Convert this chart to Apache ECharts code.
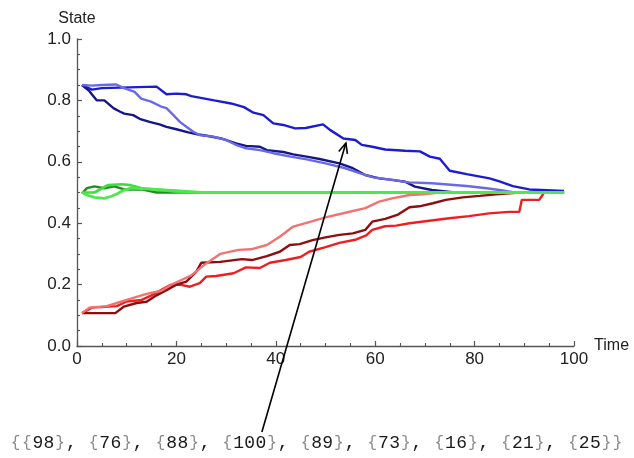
<!DOCTYPE html>
<html>
<head>
<meta charset="utf-8">
<script src="https://cdn.jsdelivr.net/npm/echarts@6/dist/echarts.min.js"></script>
<style>
  html, body { margin: 0; padding: 0; background: #fff; }
  #chart { width: 634px; height: 458px; }
</style>
</head>
<body>
<div id="chart"></div>
<script>
// Random-walk states drifting towards 0.5 (time step, state)

// Blue walks, starting near 0.85
const blueT = [1, 3, 5, 16, 18, 20, 22, 23, 27.6, 31, 33.6, 35.5, 37.5, 39.5, 41.5, 43.9, 46, 49.5, 50.9, 53.6, 56, 57.3, 59.4, 62, 66, 69, 71, 73, 75, 78.4, 83, 85, 87.7, 91, 98];
const blueV = [0.85, 0.835, 0.84, 0.845, 0.82, 0.822, 0.82, 0.814, 0.80, 0.79, 0.778, 0.76, 0.752, 0.725, 0.72, 0.709, 0.71, 0.722, 0.704, 0.676, 0.671, 0.655, 0.649, 0.64, 0.636, 0.634, 0.617, 0.61, 0.571, 0.56, 0.546, 0.536, 0.521, 0.51, 0.505];

const navyT = [1, 2.5, 4, 5.5, 7.4, 8.7, 9.5, 11.3, 12.6, 14.6, 16.6, 18, 20, 22.4, 24.4, 26.4, 29, 32, 34, 36.8, 38.2, 41.5, 43.5, 46.2, 48.8, 52.8, 55.5, 58, 60.8, 63.4, 66, 68, 71.4, 76, 98];
const navyV = [0.85, 0.83, 0.80, 0.80, 0.774, 0.763, 0.757, 0.752, 0.74, 0.73, 0.722, 0.714, 0.706, 0.696, 0.689, 0.684, 0.676, 0.66, 0.652, 0.649, 0.638, 0.632, 0.624, 0.617, 0.609, 0.595, 0.579, 0.557, 0.546, 0.541, 0.535, 0.519, 0.508, 0.50, 0.50];

const lightBlueT = [1, 3, 5, 7.8, 9.6, 11.6, 12.9, 14.9, 16.9, 18, 19.4, 20.7, 22, 23.4, 24.7, 27.4, 30, 32, 34, 36.8, 39.5, 43, 46.2, 50, 54, 57, 59.4, 63.4, 66.8, 71.4, 78.4, 82.4, 85, 88, 98];
const lightBlueV = [0.85, 0.848, 0.85, 0.852, 0.839, 0.828, 0.806, 0.796, 0.78, 0.775, 0.752, 0.73, 0.714, 0.698, 0.687, 0.682, 0.671, 0.655, 0.644, 0.638, 0.628, 0.617, 0.608, 0.595, 0.579, 0.562, 0.55, 0.541, 0.533, 0.53, 0.521, 0.514, 0.508, 0.50, 0.50];

// Red walks, starting near 0.11
const redT = [1, 3, 8, 10, 13, 15, 18.8, 20.7, 22.7, 24.7, 26, 28, 31.5, 34, 36.8, 38.8, 42, 45, 46.7, 50, 52.8, 56.2, 58.2, 59.4, 62, 64.2, 66.9, 70.9, 74.9, 78.9, 82.9, 86.9, 89, 89.5, 93, 94, 98];
const redV = [0.107, 0.125, 0.13, 0.145, 0.15, 0.165, 0.199, 0.20, 0.193, 0.205, 0.226, 0.228, 0.237, 0.256, 0.254, 0.271, 0.28, 0.29, 0.307, 0.322, 0.336, 0.347, 0.36, 0.378, 0.39, 0.392, 0.40, 0.408, 0.416, 0.423, 0.432, 0.437, 0.437, 0.476, 0.476, 0.50, 0.50];

const darkRedT = [1, 7.7, 9.4, 12, 14, 16, 18, 20, 22, 24, 25, 28.8, 33.2, 35.2, 38.2, 40.8, 42.8, 44.8, 47.4, 50, 52.8, 55.5, 58, 59.4, 62, 64.6, 66.9, 68.9, 71.6, 74.2, 77.6, 81, 84.3, 89, 98];
const darkRedV = [0.107, 0.107, 0.128, 0.14, 0.144, 0.165, 0.182, 0.20, 0.21, 0.242, 0.271, 0.274, 0.283, 0.28, 0.293, 0.307, 0.329, 0.332, 0.345, 0.354, 0.362, 0.367, 0.378, 0.405, 0.414, 0.428, 0.452, 0.455, 0.465, 0.476, 0.484, 0.489, 0.494, 0.50, 0.50];

const lightRedT = [1, 2.5, 6, 8, 11, 14, 17, 19, 21, 23, 26, 28.8, 32.5, 35, 38.2, 40.8, 43.5, 46, 50, 54, 58, 60.8, 63.4, 66.9, 69.6, 73, 98];
const lightRedV = [0.107, 0.125, 0.13, 0.14, 0.155, 0.17, 0.18, 0.2, 0.215, 0.23, 0.269, 0.30, 0.313, 0.315, 0.329, 0.356, 0.389, 0.40, 0.419, 0.434, 0.449, 0.47, 0.481, 0.492, 0.494, 0.50, 0.50];

// Green walks, starting at 0.5
const darkGreenT = [1, 2, 3.5, 5.5, 7.5, 9.5, 13, 16, 98];
const darkGreenV = [0.497, 0.514, 0.52, 0.514, 0.52, 0.51, 0.51, 0.50, 0.50];

const greenT = [1, 3.5, 6.2, 9, 10.8, 13, 17, 21, 98];
const greenV = [0.50, 0.50, 0.524, 0.527, 0.524, 0.514, 0.508, 0.50, 0.50];

const lightGreenT = [1, 2, 3.5, 5.5, 6.8, 8, 9.5, 10.8, 14, 20, 25, 98];
const lightGreenV = [0.50, 0.492, 0.484, 0.481, 0.487, 0.495, 0.508, 0.514, 0.512, 0.506, 0.50, 0.50];

// Steps until each walk settled
const settleTimes = [98, 76, 88, 100, 89, 73, 16, 21, 25];

// Axis ticks
const xTicks = [0, 20, 40, 60, 80, 100];
const yTicks = [0.0, 0.2, 0.4, 0.6, 0.8, 1.0];

function pairs(ts, vs) { return ts.map((t, i) => [t, vs[i]]); }

const walks = [
  { t: blueT, v: blueV, color: '#1c1cd0', width: 2.4 },
  { t: navyT, v: navyV, color: '#16168c', width: 2.4 },
  { t: lightBlueT, v: lightBlueV, color: '#6a6ae6', width: 2.4 },
  { t: redT, v: redV, color: '#ec2020', width: 2.4 },
  { t: darkRedT, v: darkRedV, color: '#8e0e0e', width: 2.4 },
  { t: lightRedT, v: lightRedV, color: '#f27272', width: 2.4 },
  { t: darkGreenT, v: darkGreenV, color: '#1f8e1f', width: 2.4 },
  { t: greenT, v: greenV, color: '#3fdc3f', width: 2.6 },
  { t: lightGreenT, v: lightGreenV, color: '#4de84d', width: 2.8 }
];

const chart = echarts.init(document.getElementById('chart'), null, { renderer: 'canvas' });

const axisColor = '#555';
const labelFont = { color: '#222', fontFamily: 'Liberation Sans, Arial, sans-serif', fontSize: 17 };

chart.setOption({
  animation: false,
  backgroundColor: '#fff',
  grid: { left: 77, right: 60, top: 39, bottom: 112, containLabel: false },
  xAxis: {
    type: 'value', min: xTicks[0], max: xTicks[xTicks.length - 1], interval: xTicks[1] - xTicks[0],
    name: 'Time', nameLocation: 'end', nameGap: 13,
    nameTextStyle: Object.assign({}, labelFont, { fontSize: 16 }),
    axisLine: { show: true, lineStyle: { color: axisColor, width: 1.3 } },
    axisTick: { show: true, inside: true, length: 5, lineStyle: { color: axisColor, width: 1.2 } },
    minorTick: { show: true, splitNumber: 4, length: 3, lineStyle: { color: axisColor, width: 1.1 } },
    splitLine: { show: false },
    axisLabel: Object.assign({ margin: 5 }, labelFont)
  },
  yAxis: {
    type: 'value', min: yTicks[0], max: yTicks[yTicks.length - 1], interval: yTicks[1] - yTicks[0],
    name: 'State', nameLocation: 'end', nameGap: 12,
    nameTextStyle: Object.assign({}, labelFont, { fontSize: 16, align: 'center' }),
    axisLine: { show: true, lineStyle: { color: axisColor, width: 1.3 } },
    axisTick: { show: true, inside: true, length: 5, lineStyle: { color: axisColor, width: 1.2 } },
    minorTick: { show: true, splitNumber: 4, length: 3, lineStyle: { color: axisColor, width: 1.1 } },
    splitLine: { show: false },
    axisLabel: Object.assign({ margin: 6, formatter: v => v.toFixed(1) }, labelFont)
  },
  series: walks.map(w => ({
    type: 'line',
    data: pairs(w.t, w.v),
    showSymbol: false,
    symbol: 'none',
    lineStyle: { color: w.color, width: w.width },
    itemStyle: { color: w.color },
    z: 2
  }))
});

// Annotation arrow from the settle-time list up to the slowest blue walk
const tip = chart.convertToPixel({ gridIndex: 0 }, [54.1, 0.661]);
const tail = chart.convertToPixel({ gridIndex: 0 }, [37.2, -0.28]);
const ang = Math.atan2(tail[1] - tip[1], tail[0] - tip[0]);
const headLen = 11, headSpread = 0.42;
const h1 = [tip[0] + headLen * Math.cos(ang + headSpread), tip[1] + headLen * Math.sin(ang + headSpread)];
const h2 = [tip[0] + headLen * Math.cos(ang - headSpread), tip[1] + headLen * Math.sin(ang - headSpread)];

// Settle-time list in Mathematica style, laid out on a fixed monospace pitch
const listText = '{' + settleTimes.map(n => '{' + n + '}').join(', ') + '}';
const pitch = 11.15;
const startX = 10;
const listElems = [];
for (let i = 0; i < listText.length; i++) {
  const ch = listText[i];
  if (ch === ' ') continue;
  const isBrace = ch === '{' || ch === '}';
  listElems.push({
    type: 'text',
    x: startX + i * pitch + pitch / 2,
    y: 443,
    style: {
      text: ch,
      fill: isBrace ? '#8a8a8a' : '#1a1a1a',
      font: (isBrace ? '16px' : '18px') + ' "Liberation Mono", "DejaVu Sans Mono", monospace',
      align: 'center',
      verticalAlign: 'middle'
    }
  });
}

chart.setOption({
  graphic: [
    {
      type: 'polyline', z: 10,
      shape: { points: [tail, tip] },
      style: { stroke: '#000', lineWidth: 1.6, fill: null }
    },
    {
      type: 'polyline', z: 10,
      shape: { points: [h1, tip, h2] },
      style: { stroke: '#000', lineWidth: 1.6, fill: null }
    }
  ].concat(listElems)
});
</script>
</body>
</html>
